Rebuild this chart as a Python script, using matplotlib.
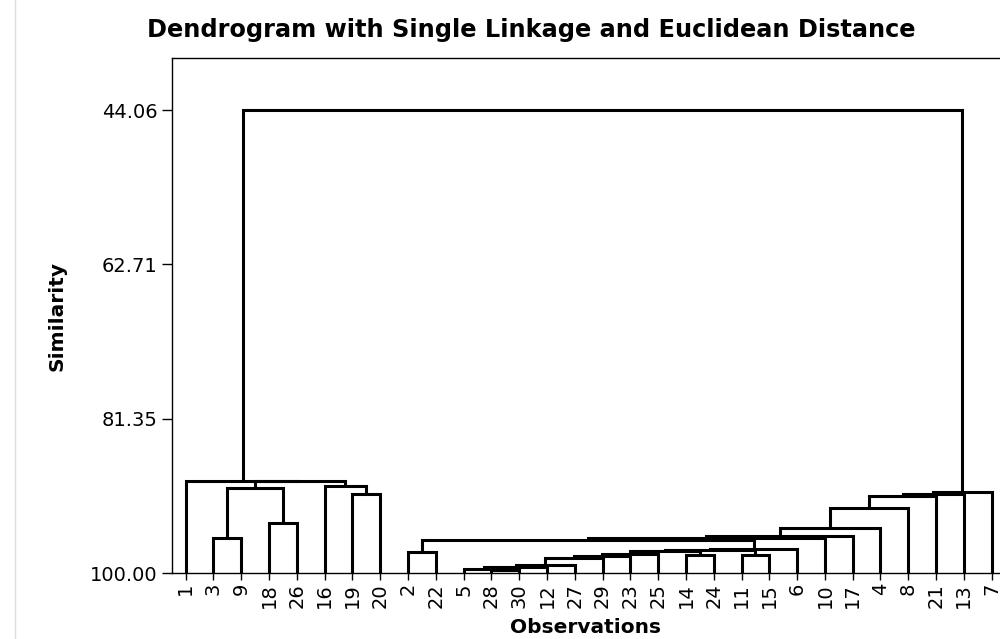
import matplotlib.pyplot as plt
from matplotlib.lines import Line2D

# leaf order along the x axis (observation numbers)
leaf_order = [1, 3, 9, 18, 26, 16, 19, 20, 2, 22, 5, 28, 30, 12, 27,
              29, 23, 25, 14, 24, 11, 15, 6, 10, 17, 4, 8, 21, 13, 7]

# merge steps: "mK" refers to the cluster built at step K
merge_a = [3, 18, "m0", 19, 16, "m2", 1, 28, 5, "m8", "m9", "m10", "m11", "m12", 14,
           "m13", 11, "m15", "m17", 2, "m19", "m20", "m21", "m22", "m23", "m24",
           "m25", "m26", "m6"]
merge_b = [9, 26, "m1", 20, "m3", "m4", "m5", 30, "m7", 12, 27, 29, 23, 25, 24,
           "m14", 15, "m16", 6, 22, "m18", 10, 17, 4, 8, 21, 13, 7, "m27"]
merge_sim = [95.70, 93.89, 89.74, 90.42, 89.46, 88.90, 88.84, 99.54, 99.42, 99.18,
             98.97, 98.19, 97.85, 97.61, 97.73, 97.31, 97.83, 97.19, 97.07, 97.46,
             96.02, 95.68, 95.44, 94.53, 92.15, 90.67, 90.46, 90.15, 44.06]

y_ticks = [44.06, 62.71, 81.35, 100.00]

fig = plt.figure(figsize=(10, 6.39), dpi=100)
ax = fig.add_axes([0.1717, 0.1028, 0.8283, 0.8064])

pos = {leaf: i for i, leaf in enumerate(leaf_order)}
height = {leaf: 100.0 for leaf in leaf_order}

for k, (a, b, s) in enumerate(zip(merge_a, merge_b, merge_sim)):
    xa, xb = pos[a], pos[b]
    ax.plot([xa, xa, xb, xb], [height[a], s, s, height[b]],
            color="black", lw=2.2, solid_joinstyle="miter", solid_capstyle="butt")
    pos["m%d" % k] = (xa + xb) / 2
    height["m%d" % k] = s

ax.set_xlim(-0.5, 29.3)
ax.set_ylim(100, 37.78)

ax.set_yticks(y_ticks)
ax.set_yticklabels(["%.2f" % v for v in y_ticks])
ax.set_xticks(range(len(leaf_order)))
ax.set_xticklabels([str(v) for v in leaf_order], rotation=90)

ax.tick_params(axis="y", length=7, width=1, labelsize=14, pad=3)
ax.tick_params(axis="x", length=5, width=1, labelsize=14, pad=2)
ax.spines["right"].set_visible(False)
for sp in ["left", "top", "bottom"]:
    ax.spines[sp].set_linewidth(1)

ax.set_xlabel("Observations", fontsize=14.5, fontweight="bold", labelpad=7)
ax.set_ylabel("Similarity", fontsize=14.5, fontweight="bold", labelpad=17)

fig.text(0.531, 1 - 30 / 639, "Dendrogram with Single Linkage and Euclidean Distance",
         ha="center", va="center", fontsize=17.3, fontweight="bold")

fig.add_artist(Line2D([0.015, 0.015], [0, 1], color="#dddddd", lw=1))

fig.savefig("out.png", dpi=100)
